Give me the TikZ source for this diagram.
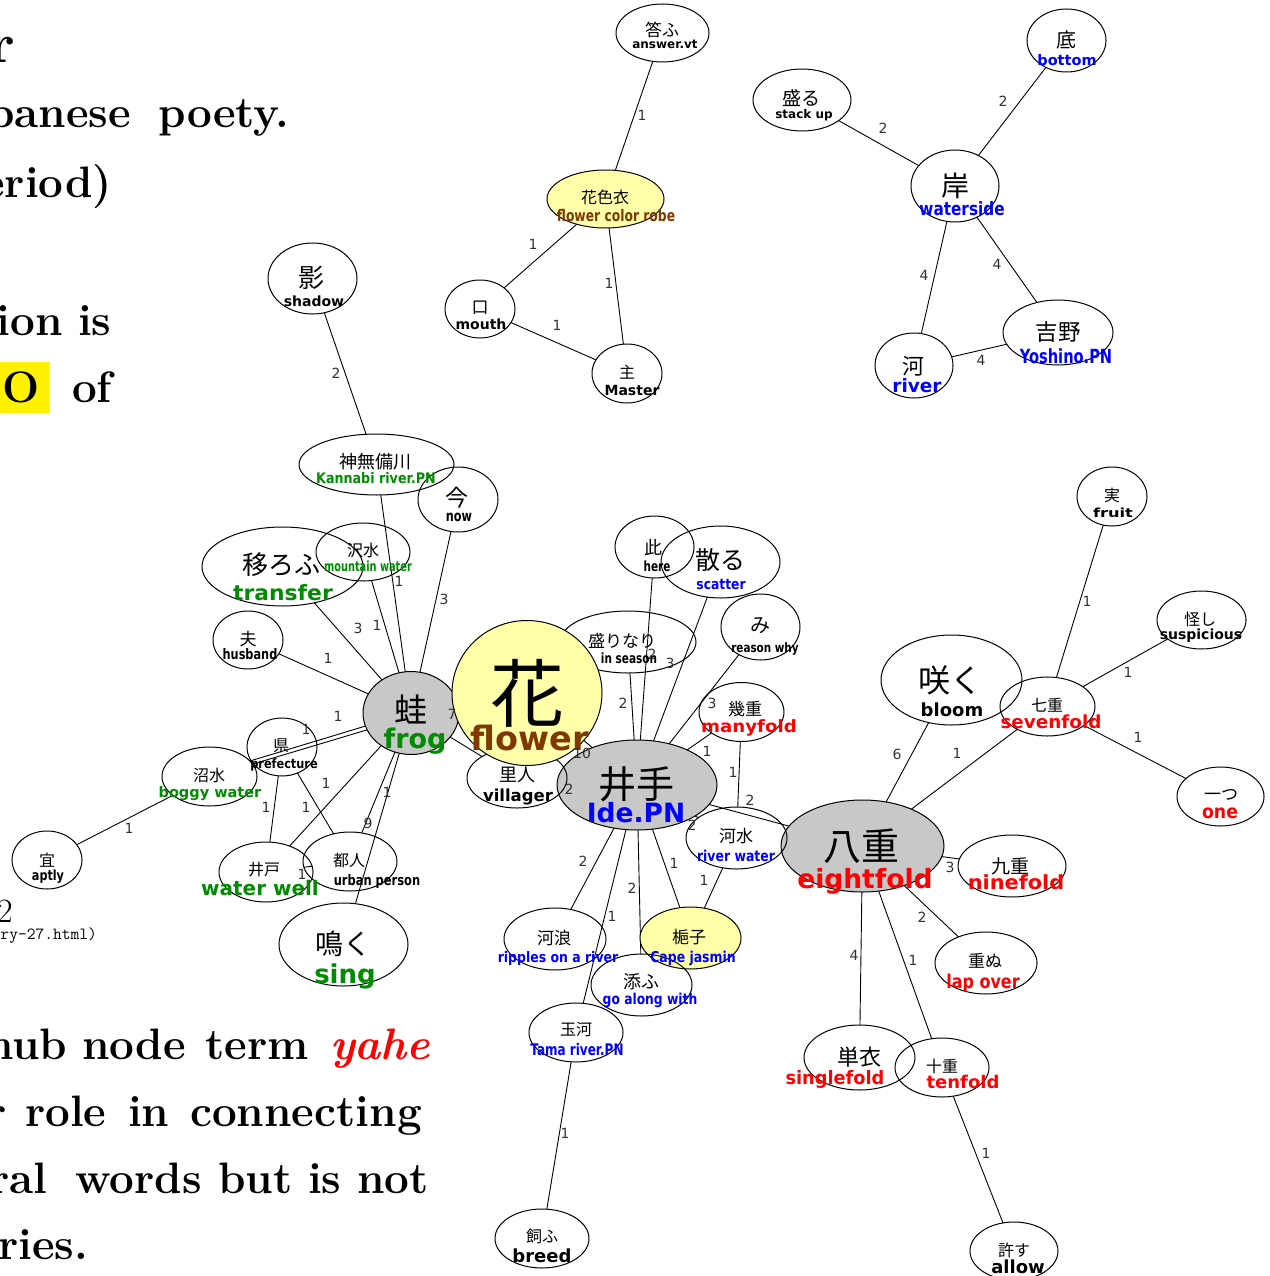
\documentclass[tikz,border=0pt]{standalone}
\usepackage{fontspec}
\usepackage{graphicx}
\usetikzlibrary{shapes.geometric}
\newfontfamily\jpf{Noto Sans CJK JP}
\newfontfamily\dvf{DejaVu Sans}
\definecolor{gvgrey}{RGB}{200,200,200}
\definecolor{gvyel}{RGB}{255,255,170}
\definecolor{gvbrown}{RGB}{128,56,0}
\definecolor{gvgreen}{RGB}{0,140,0}
\definecolor{gvblue}{RGB}{0,0,255}
\definecolor{gvred}{RGB}{255,0,0}
\definecolor{elgrey}{RGB}{50,50,50}
\definecolor{hlyel}{RGB}{255,242,0}
\pgfdeclarelayer{bg}
\pgfsetlayers{bg,main}
\newcommand\FS[1]{\fontsize{#1}{#1}\selectfont}
\newcommand\GN[6][]{\node[ell,#1,minimum width=#5pt,minimum height=#6pt] (#2) at (#3,#4) {};}
\newcommand\JT[5]{\node[jtx] (#1j) at (#2,#3) {\FS{#4}#5};}
\newcommand\ET[7]{\node[etx,text=#6] (#1e) at (#2,#3) {\scalebox{#5}[1]{\FS{#4}#7}};}
\newcounter{elc}
\newcommand\EL[3]{\stepcounter{elc}\node[elx] (lab\arabic{elc}) at (#1,#2) {#3};}
\tikzset{
  ell/.style={draw=black, line width=1pt, ellipse, inner sep=0pt, outer sep=0pt},
  jtx/.style={inner sep=0pt, anchor=center, font=\jpf, text=black},
  etx/.style={inner sep=0pt, anchor=base, font=\dvf\bfseries},
  elx/.style={inner sep=0pt, anchor=center, font=\dvf\FS{14}, text=elgrey},
  conn/.style={line width=0.9pt, draw=black},
  lt/.style={inner sep=0pt, anchor=base west, font=\rmfamily\bfseries\FS{44}, text=black},
}
\begin{document}
\begin{tikzpicture}[x=1pt,y=-1pt]
\useasboundingbox (0,0) rectangle (1269,1276);
\begin{pgfonlayer}{bg}
\fill[white] (0,0) rectangle (1269,1276);
\end{pgfonlayer}
% ---------- left text ----------
\fill[hlyel] (0,362) rectangle (50,413);
\node[lt, anchor=base east, font=\rmfamily\bfseries\FS{56}] (w0) at (15,63) {r};
\node[lt, anchor=base east] (w1) at (131,128) {panese};
\node[lt] (w2) at (158,128) {poety.};
\node[lt, anchor=base east] (w3) at (112,197) {eriod)};
\node[lt, anchor=base east] (w4) at (63,335) {ion};
\node[lt] (w5) at (78,335) {is};
\node[lt] (w6) at (2,402) {O};
\node[lt] (w7) at (72,402) {of};
\node[lt, anchor=base east, font=\rmfamily\FS{34}] (w8) at (13,922) {2};
\node[lt, anchor=base east, font=\ttfamily\FS{17}] (w9) at (97,939) {try-27.html)};
\node[lt] (w10) at (-14,1059) {hub};
\node[lt] (w11) at (82,1059) {node};
\node[lt] (w12) at (205,1059) {term};
\node[lt, font=\rmfamily\bfseries\itshape\FS{44}, text=gvred] (w13) at (330,1059) {yahe};
\node[lt] (w14) at (-14,1126) {r};
\node[lt] (w15) at (25,1126) {role};
\node[lt] (w16) at (128,1126) {in};
\node[lt] (w17) at (190,1126) {connecting};
\node[lt] (w18) at (-11,1193) {ral};
\node[lt] (w19) at (75,1193) {words};
\node[lt] (w20) at (218,1193) {but};
\node[lt] (w21) at (308,1193) {is};
\node[lt] (w22) at (357,1193) {not};
\node[lt] (w23) at (-2,1259) {ries.};
% ---------- filled shapes ----------
\GN[fill=gvgrey]{kawazu}{411}{713}{96}{83}
\GN[fill=gvgrey]{ide}{637}{785}{160}{90}
\GN[fill=gvgrey]{yae}{862.5}{846}{163}{92}
\GN[fill=gvyel]{kuchinashi}{690.5}{938}{101}{62}
\GN[fill=gvyel]{hanairo}{605.5}{199}{117}{58}
% ---------- plain shapes ----------
\GN{kotau}{662.5}{33}{93}{58}
\GN{kuchi}{480}{309}{70}{58}
\GN{nushi}{627}{373.5}{70}{59}
\GN{moru}{802}{100}{98}{62}
\GN{soko}{1066.5}{40.5}{79}{63}
\GN{kishi}{955}{186}{88}{72}
\GN{yoshino}{1058}{332.5}{110}{65}
\GN{kawa}{914}{365.5}{78}{65}
\GN{kage}{312.5}{278.5}{89}{71}
\GN{kannabi}{376.5}{464.5}{155}{61}
\GN{ima}{458}{499.5}{80}{65}
\GN{sawa}{363}{552}{94}{58}
\GN{utsu}{282.5}{566.5}{161}{79}
\GN{otto}{248}{640}{70}{58}
\GN{sakari}{628}{642}{136}{62}
\GN{kore}{654.5}{547}{79}{62}
\GN{chiru}{720.5}{562}{119}{72}
\GN{mi}{760.5}{627}{79}{66}
\GN{ikue}{741.5}{712}{85}{59}
\GN{sato}{517}{778}{100}{60}
\GN{kawamizu}{736.5}{838}{101}{62}
\GN{saku}{951.5}{680}{141}{90}
\GN{nanae}{1047.5}{706.5}{95}{59}
\GN{mitwo}{1112}{496.5}{70}{59}
\GN{ayashi}{1201.5}{620}{89}{58}
\GN{hitotsu}{1220.5}{796.5}{87}{59}
\GN{kokonoe}{1012}{866}{108}{62}
\GN{kasanu}{986}{963}{102}{62}
\GN{hitoe}{859.5}{1057.5}{111}{65}
\GN{toe}{942}{1067.5}{94}{59}
\GN{yurusu}{1014}{1251}{88}{58}
\GN{kawanami}{555}{939}{102}{62}
\GN{sou}{641.5}{985}{101}{62}
\GN{tamagawa}{576}{1032.5}{94}{59}
\GN{kau}{542}{1238.5}{94}{59}
\GN{agata}{282}{747}{70}{58}
\GN{numa}{209.5}{776.5}{95}{59}
\GN{mube}{47}{860}{70}{58}
\GN{ido}{266}{872}{94}{60}
\GN{miyako}{350}{861.5}{94}{59}
\GN{naku}{343.5}{944.5}{129}{83}
\GN[fill=gvyel]{hana}{527}{693}{150}{145}
% ---------- connectors ----------
\begin{pgfonlayer}{bg}
\draw[conn] (kotau) -- (hanairo);
\draw[conn] (hanairo) -- (kuchi);
\draw[conn] (hanairo) -- (nushi);
\draw[conn] (kuchi) -- (nushi);
\draw[conn] (moru) -- (kishi);
\draw[conn] (soko) -- (kishi);
\draw[conn] (kishi) -- (kawa);
\draw[conn] (kishi) -- (yoshino);
\draw[conn] (kawa) -- (yoshino);
\draw[conn] (kage) -- (kannabi);
\draw[conn] (kannabi) -- (kawazu);
\draw[conn] (sawa) -- (kawazu);
\draw[conn] (utsu) -- (kawazu);
\draw[conn] (ima) -- (kawazu);
\draw[conn] (otto) -- (kawazu);
\draw[conn] (kawazu.196) -- (numa.21);
\draw[conn] (kawazu.201) -- (numa.16);
\draw[conn] (agata) -- (ido);
\draw[conn] (agata) -- (miyako);
\draw[conn] (kawazu) -- (ido);
\draw[conn] (kawazu) -- (miyako);
\draw[conn] (kawazu) -- (naku);
\draw[conn] (ido) -- (miyako);
\draw[conn] (numa) -- (mube);
\draw[conn] (kawazu) -- (hana);
\draw[conn] (kawazu) -- (sato);
\draw[conn] (hana) -- (ide);
\draw[conn] (sato) -- (ide);
\draw[conn] (ide) -- (sakari);
\draw[conn] (ide) -- (kore);
\draw[conn] (ide) -- (chiru);
\draw[conn] (ide) -- (mi);
\draw[conn] (ide) -- (ikue);
\draw[conn] (ikue) -- (kawamizu);
\draw[conn] (ide) -- (yae);
\draw[conn] (ide) -- (kawamizu);
\draw[conn] (ide) -- (kawanami);
\draw[conn] (ide) -- (tamagawa);
\draw[conn] (ide) -- (sou);
\draw[conn] (ide) -- (kuchinashi);
\draw[conn] (kawamizu) -- (kuchinashi);
\draw[conn] (tamagawa) -- (kau);
\draw[conn] (yae) -- (saku);
\draw[conn] (yae) -- (nanae);
\draw[conn] (nanae) -- (mitwo);
\draw[conn] (nanae) -- (ayashi);
\draw[conn] (nanae) -- (hitotsu);
\draw[conn] (yae) -- (kokonoe);
\draw[conn] (yae) -- (kasanu);
\draw[conn] (yae) -- (hitoe);
\draw[conn] (yae) -- (toe);
\draw[conn] (toe) -- (yurusu);
\end{pgfonlayer}
% ---------- Japanese texts ----------
\JT{kotau}{662}{30}{17}{答ふ}
\JT{hanairo}{605}{197}{16}{花色衣}
\JT{kuchi}{480}{308}{17}{口}
\JT{nushi}{627}{372}{16}{主}
\JT{moru}{801}{98}{19}{盛る}
\JT{soko}{1066}{40}{20}{底}
\JT{kishi}{955}{186}{28}{岸}
\JT{yoshino}{1058}{332}{22.5}{吉野}
\JT{kawa}{913}{366}{22}{河}
\JT{kage}{311}{278}{26}{影}
\JT{kannabi}{375}{462}{18}{神無備川}
\JT{ima}{457}{498}{23}{今}
\JT{sawa}{363}{550}{16}{沢水}
\JT{utsu}{281}{565}{26}{移ろふ}
\JT{otto}{248}{639}{17}{夫}
\JT{kawazu}{411}{709}{33}{蛙}
\JT{hana}{527}{693}{74}{花}
\JT{sakari}{622}{641}{17}{盛りなり}
\JT{kore}{653}{548}{18}{此}
\JT{chiru}{720}{560}{25}{散る}
\JT{mi}{760}{626}{20}{み}
\JT{ikue}{745}{709}{17}{幾重}
\JT{sato}{517}{775}{18}{里人}
\JT{ide}{636}{784}{38}{井手}
\JT{kawamizu}{736}{836}{17}{河水}
\JT{yae}{861}{846}{38}{八重}
\JT{saku}{950}{680}{32}{咲く}
\JT{nanae}{1047}{705}{16}{七重}
\JT{mitwo}{1112}{495}{16}{実}
\JT{ayashi}{1200}{619}{16}{怪し}
\JT{hitotsu}{1221}{795}{17}{一つ}
\JT{kokonoe}{1010}{866}{19}{九重}
\JT{kasanu}{985}{961}{17}{重ぬ}
\JT{hitoe}{859}{1057}{22}{単衣}
\JT{toe}{942}{1066}{16}{十重}
\JT{yurusu}{1014}{1250}{16}{許す}
\JT{kuchinashi}{689}{937}{17}{梔子}
\JT{kawanami}{554}{938}{17}{河浪}
\JT{sou}{641}{982}{18}{添ふ}
\JT{tamagawa}{576}{1030}{16}{玉河}
\JT{kau}{542}{1236}{16}{飼ふ}
\JT{agata}{281}{746}{16}{県}
\JT{numa}{209}{775}{16}{沼水}
\JT{mube}{47}{860}{16}{宜}
\JT{ido}{264}{870}{16}{井戸}
\JT{miyako}{349}{860}{16}{都人}
\JT{naku}{343}{944}{28}{鳴く}
% ---------- English texts ----------
\ET{kotau}{665}{49}{12}{1}{black}{answer.vt}
\ET{hanairo}{616}{222}{16}{0.77}{gvbrown}{flower color robe}
\ET{kuchi}{481}{329}{14}{1}{black}{mouth}
\ET{nushi}{632}{395}{14}{1}{black}{Master}
\ET{moru}{804}{119}{12}{1}{black}{stack up}
\ET{soko}{1067}{66}{14.5}{1}{gvblue}{bottom}
\ET{kishi}{962}{215}{18.4}{0.83}{gvblue}{waterside}
\ET{yoshino}{1066}{363}{19.5}{0.75}{gvblue}{Yoshino.PN}
\ET{kawa}{917}{392}{18.5}{1}{gvblue}{river}
\ET{kage}{314}{306}{14}{1}{black}{shadow}
\ET{kannabi}{376}{483}{14.6}{0.87}{gvgreen}{Kannabi river.PN}
\ET{ima}{459}{521}{15}{0.75}{black}{now}
\ET{sawa}{368}{571}{14}{0.7}{gvgreen}{mountain water}
\ET{utsu}{283}{600}{21}{1.04}{gvgreen}{transfer}
\ET{otto}{250}{659}{14.5}{0.78}{black}{husband}
\ET{kawazu}{415}{748}{27}{1}{gvgreen}{frog}
\ET{hana}{530}{750}{33.5}{1}{gvbrown}{flower}
\ET{sakari}{629}{663}{14}{0.75}{black}{in season}
\ET{kore}{657}{571}{14}{0.75}{black}{here}
\ET{chiru}{721}{589}{14.5}{0.85}{gvblue}{scatter}
\ET{mi}{765}{652}{13}{0.8}{black}{reason why}
\ET{ikue}{749}{732}{17}{1.07}{gvred}{manyfold}
\ET{sato}{518}{801}{16.5}{1}{black}{villager}
\ET{ide}{636}{822}{26.5}{1}{gvblue}{Ide.PN}
\ET{kawamizu}{736}{861}{15}{0.83}{gvblue}{river water}
\ET{yae}{865}{888}{26.5}{1}{gvred}{eightfold}
\ET{saku}{952}{716}{18}{1}{black}{bloom}
\ET{nanae}{1051}{728}{18}{1.02}{gvred}{sevenfold}
\ET{mitwo}{1113}{517}{12.5}{1.3}{black}{fruit}
\ET{ayashi}{1201}{639}{14}{1}{black}{suspicious}
\ET{hitotsu}{1220}{818}{19}{0.91}{gvred}{one}
\ET{kokonoe}{1016}{889}{19.5}{1.07}{gvred}{ninefold}
\ET{kasanu}{983}{988}{19}{0.84}{gvred}{lap over}
\ET{hitoe}{835}{1084}{18.5}{0.96}{gvred}{singlefold}
\ET{toe}{963}{1088}{17.5}{1.03}{gvred}{tenfold}
\ET{yurusu}{1018}{1273}{18}{1}{black}{allow}
\ET{kuchinashi}{693}{962}{15}{0.83}{gvblue}{Cape jasmin}
\ET{kawanami}{558}{962}{14.5}{0.86}{gvblue}{ripples on a river}
\ET{sou}{650}{1004}{15}{0.82}{gvblue}{go along with}
\ET{tamagawa}{577}{1055}{16}{0.75}{gvblue}{Tama river.PN}
\ET{kau}{542}{1262}{18}{1}{black}{breed}
\ET{agata}{284}{768}{13}{0.87}{black}{prefecture}
\ET{numa}{210}{797}{14.5}{1}{gvgreen}{boggy water}
\ET{mube}{48}{880}{14}{0.8}{black}{aptly}
\ET{ido}{260}{895}{20}{1}{gvgreen}{water well}
\ET{miyako}{377}{885}{14.5}{0.79}{black}{urban person}
\ET{naku}{345}{983}{26}{1}{gvgreen}{sing}
% ---------- connector labels ----------
\EL{642}{115}{1} \EL{533}{244}{1} \EL{609}{283}{1} \EL{557}{325}{1}
\EL{883}{128}{2} \EL{1003}{101}{2} \EL{924}{275}{4} \EL{997}{264}{4} \EL{981}{360}{4}
\EL{336}{373}{2}
\EL{399}{581}{1} \EL{377}{625}{1} \EL{358}{628}{3} \EL{444}{599}{3} \EL{328}{658}{1}
\EL{338}{716}{1} \EL{306}{729}{1}
\EL{266}{807}{1} \EL{306}{807}{1} \EL{326}{783}{1} \EL{368}{823}{9} \EL{387}{792}{1} \EL{302}{874}{1} \EL{129}{828}{1}
\EL{452}{714}{7} \EL{582}{753}{10} \EL{569}{789}{2}
\EL{623}{703}{2} \EL{652}{654}{2} \EL{670}{663}{3} \EL{712}{703}{3} \EL{707}{751}{1} \EL{733}{772}{1} \EL{750}{800}{2} \EL{692}{825}{2}
\EL{583}{861}{2} \EL{612}{916}{1} \EL{632}{888}{2} \EL{674}{863}{1} \EL{704}{880}{1} \EL{565}{1133}{1}
\EL{897}{754}{6} \EL{957}{753}{1} \EL{1087}{601}{1} \EL{1128}{672}{1} \EL{1138}{737}{1}
\EL{950}{867}{3} \EL{922}{917}{2} \EL{854}{955}{4} \EL{913}{960}{1} \EL{986}{1153}{1}
\end{tikzpicture}
\end{document}
